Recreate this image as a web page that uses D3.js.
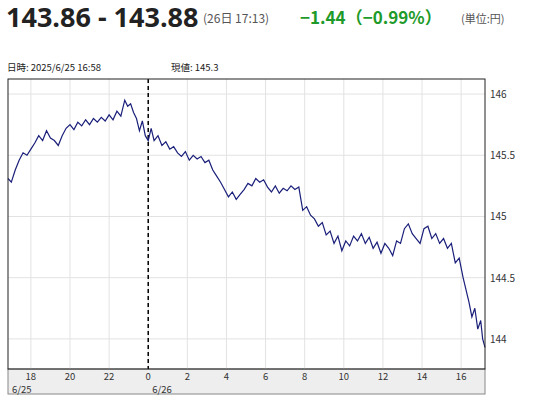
<!DOCTYPE html>
<html><head><meta charset="utf-8">
<script src="https://cdn.jsdelivr.net/npm/d3@7"></script>
<style>body{margin:0;background:#fff;font-family:"Noto Sans CJK JP","Noto Sans",sans-serif;}</style>
</head><body><div id="canvas"></div>
<script>
"use strict";
// hours relative to 6/26 00:00
let hours = [
  -7.17,-7.0,-6.8,-6.6,-6.4,-6.2,-6.0,-5.8,-5.6,-5.4,
  -5.2,-5.0,-4.8,-4.6,-4.4,-4.2,-4.0,-3.8,-3.6,-3.4,
  -3.2,-3.0,-2.8,-2.6,-2.4,-2.2,-2.0,-1.8,-1.6,-1.4,
  -1.2,-1.05,-0.9,-0.75,-0.6,-0.45,-0.3,-0.15,0,0.15,
  0.3,0.5,0.7,0.9,1.1,1.3,1.5,1.7,1.9,2.1,
  2.3,2.5,2.7,2.9,3.1,3.3,3.5,3.7,3.9,4.1,
  4.3,4.5,4.7,4.9,5.1,5.3,5.5,5.7,5.9,6.1,
  6.3,6.5,6.7,6.9,7.1,7.3,7.5,7.7,7.9,8.1,
  8.3,8.5,8.7,8.9,9.1,9.3,9.5,9.7,9.9,10.1,
  10.3,10.5,10.7,10.9,11.1,11.3,11.5,11.7,11.9,12.1,
  12.3,12.5,12.7,12.9,13.1,13.3,13.5,13.7,13.9,14.1,
  14.3,14.5,14.7,14.9,15.1,15.3,15.5,15.7,15.9,16.1,
  16.25,16.4,16.55,16.7,16.85,17.0,17.1,17.22];
let prices = [
  145.31,145.28,145.38,145.46,145.52,145.50,145.55,145.60,145.66,145.62,
  145.70,145.64,145.62,145.58,145.66,145.72,145.75,145.71,145.77,145.74,
  145.79,145.75,145.80,145.77,145.81,145.78,145.83,145.79,145.86,145.82,
  145.95,145.90,145.92,145.85,145.80,145.70,145.78,145.66,145.62,145.72,
  145.62,145.66,145.58,145.61,145.55,145.57,145.52,145.49,145.53,145.46,
  145.50,145.47,145.49,145.44,145.46,145.38,145.33,145.28,145.22,145.16,
  145.20,145.14,145.18,145.22,145.27,145.25,145.31,145.28,145.30,145.24,
  145.20,145.25,145.19,145.23,145.21,145.25,145.22,145.24,145.05,145.08,
  145.01,144.98,144.92,144.95,144.85,144.88,144.78,144.84,144.72,144.80,
  144.76,144.84,144.80,144.86,144.78,144.83,144.74,144.79,144.70,144.78,
  144.74,144.68,144.80,144.78,144.90,144.94,144.86,144.82,144.78,144.90,
  144.92,144.82,144.86,144.78,144.82,144.74,144.78,144.62,144.66,144.50,
  144.40,144.30,144.18,144.25,144.08,144.15,144.00,143.93];
let xTicks = [-6,-4,-2,0,2,4,6,8,10,12,14,16];
let yTicks = [144,144.5,145,145.5,146];

const W = 533, H = 400;
const L = 8, R = 485, T = 79, B = 369;
let svg = d3.select("#canvas").append("svg").attr("width", W).attr("height", H);

let x = d3.scaleLinear().domain([-7.17, 17.22]).range([L, R]);
let y = d3.scaleLinear().domain([143.754, 146.123]).range([B, T]);

// header
svg.append("text").attr("x", 6).attr("y", 27).text("143.86 - 143.88")
  .attr("font-size", 27).attr("font-weight", "bold").attr("fill", "#222").attr("font-family", "Open Sans, sans-serif");
svg.append("text").attr("x", 203).attr("y", 23).attr("font-size", 12).attr("fill", "#555").text("(26日 17:13)");
svg.append("text").attr("x", 300).attr("y", 24).attr("font-size", 17).attr("font-weight", "bold").attr("fill", "#1e9a2a").text("−1.44（−0.99%）");
svg.append("text").attr("x", 461).attr("y", 23).attr("font-size", 11).attr("fill", "#555").text("(単位:円)");
svg.append("text").attr("x", 7).attr("y", 71).attr("font-size", 9.5).attr("fill", "#222").text("日時: 2025/6/25  16:58");
svg.append("text").attr("x", 171).attr("y", 71).attr("font-size", 9.5).attr("fill", "#222").text("現値: 145.3");

// axis strip
svg.append("rect").attr("x", L).attr("y", B).attr("width", R - L).attr("height", 25).attr("fill", "#eeeeee").attr("stroke", "#888");

// grid
svg.selectAll(".vg").data(xTicks).enter().append("line")
  .attr("x1", d => x(d)).attr("x2", d => x(d)).attr("y1", T).attr("y2", B)
  .attr("stroke", "#e2e2e2");
svg.selectAll(".hg").data(yTicks).enter().append("line")
  .attr("x1", L).attr("x2", R).attr("y1", d => y(d)).attr("y2", d => y(d))
  .attr("stroke", "#e2e2e2");

// midnight dashed line
svg.append("line").attr("x1", x(0)).attr("x2", x(0)).attr("y1", T).attr("y2", B)
  .attr("stroke", "#000").attr("stroke-width", 1.5).attr("stroke-dasharray", "4,3");

// price line
let line = d3.line().x((d, i) => x(hours[i])).y(d => y(d));
svg.append("path").datum(prices).attr("d", line)
  .attr("fill", "none").attr("stroke", "#1a1f7a").attr("stroke-width", 1.2);

// frame
svg.append("rect").attr("x", L).attr("y", T).attr("width", R - L).attr("height", B - T)
  .attr("fill", "none").attr("stroke", "#222");

// x labels
svg.selectAll(".xl").data(xTicks).enter().append("text")
  .attr("x", d => x(d)).attr("y", 380).attr("text-anchor", "middle")
  .attr("font-size", 9.5).attr("fill", "#333")
  .text(d => (d + 24) % 24);
svg.append("text").attr("x", 12).attr("y", 393).attr("font-size", 9.5).attr("fill", "#333").text("6/25");
svg.append("text").attr("x", x(0) + 4).attr("y", 393).attr("font-size", 9.5).attr("fill", "#333").text("6/26");

// y labels
svg.selectAll(".yl").data(yTicks).enter().append("text")
  .attr("x", 490).attr("y", d => y(d) + 4)
  .attr("font-size", 10).attr("fill", "#333")
  .text(d => d);
</script></body></html>
